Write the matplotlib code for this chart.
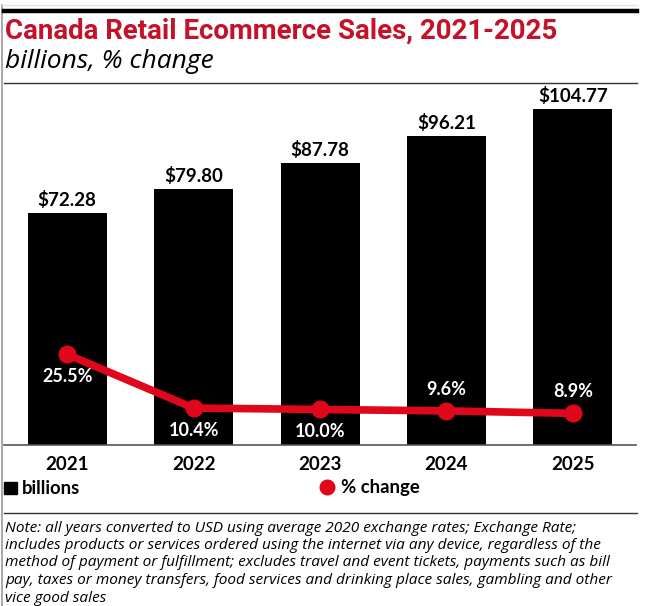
import matplotlib
matplotlib.use("Agg")
import matplotlib.pyplot as plt
from matplotlib.lines import Line2D
from matplotlib.patches import Rectangle

years = ["2021", "2022", "2023", "2024", "2025"]
sales_billions = [72.28, 79.80, 87.78, 96.21, 104.77]
pct_change = [25.5, 10.4, 10.0, 9.6, 8.9]
sales_labels = ["$72.28", "$79.80", "$87.78", "$96.21", "$104.77"]
pct_labels = ["25.5%", "10.4%", "10.0%", "9.6%", "8.9%"]
pct_label_above = [False, False, False, True, True]

title = "Canada Retail Ecommerce Sales, 2021-2025"
subtitle = "billions, % change"
legend_labels = ["billions", "% change"]
note_lines = [
    "Note: all years converted to USD using average 2020 exchange rates; Exchange Rate;",
    "includes products or services ordered using the internet via any device, regardless of the",
    "method of payment or fulfillment; excludes travel and event tickets, payments such as bill",
    "pay, taxes or money transfers, food services and drinking place sales, gambling and other",
    "vice good sales",
]

W, H = 656, 606
RED_TITLE = "#c5122b"
RED_LINE = "#e0061c"

fig = plt.figure(figsize=(W / 100, H / 100), dpi=100)
fig.patch.set_facecolor("white")

def fx(x):
    return x / W

def fy(y):
    return 1 - y / H

# frame lines
fig.add_artist(Line2D([fx(2), fx(2)], [fy(5), fy(606)], color="#9a9a9a", lw=1.2))
fig.add_artist(Line2D([fx(2), fx(637)], [fy(5), fy(5)], color="#e4e4e4", lw=1.0))
fig.add_artist(Line2D([fx(4), fx(637)], [fy(11), fy(11)], color="black", lw=3.2))
fig.add_artist(Line2D([fx(4), fx(637)], [fy(83), fy(83)], color="#333333", lw=1.0))
fig.add_artist(Line2D([fx(4), fx(637)], [fy(513), fy(513)], color="#333333", lw=1.0))

fig.text(fx(5), fy(31), title, color=RED_TITLE, fontsize=19.9, fontweight="bold",
         family="Roboto", va="center", ha="left")
fig.text(fx(5), fy(62), subtitle, color="black", fontsize=19, style="italic",
         family="Open Sans", va="center", ha="left")

# axes
ax = fig.add_axes([fx(4), fy(445), (636 - 4) / W, (445 - 90) / H])
x = list(range(len(years)))
ax.bar(x, sales_billions, width=0.625, color="black", zorder=2)
ax.set_xlim(-0.5, 4.5)
ax.set_ylim(0, 355 / 3.207)
for s in ["top", "right", "left"]:
    ax.spines[s].set_visible(False)
ax.spines["bottom"].set_color("#555555")
ax.spines["bottom"].set_linewidth(1.2)
ax.set_yticks([])
ax.set_xticks(x)
ax.set_xticklabels(years, fontsize=13.5, fontweight="bold", family="Lato")
ax.tick_params(axis="x", length=0, pad=8)
for xi, v, lab in zip(x, sales_billions, sales_labels):
    ax.annotate(lab, (xi, v), xytext=(0, 3), textcoords="offset points",
                ha="center", va="bottom", fontsize=13.5, fontweight="bold", family="Lato")

ax2 = ax.twinx()
ax2.set_ylim(0, 355 / 3.554)
ax2.axis("off")
ax2.plot(x, pct_change, color=RED_LINE, lw=5.5, marker="o", markersize=12,
         solid_capstyle="round", zorder=3)
for xi, v, lab, above in zip(x, pct_change, pct_labels, pct_label_above):
    ax2.annotate(lab, (xi, v), xytext=(0, 15.5 if above else -16), textcoords="offset points",
                 ha="center", va="center", fontsize=13, fontweight="bold",
                 family="Lato", color="white")

# legend
fig.add_artist(Rectangle((fx(4), fy(494)), 13 / W, 12 / H, color="black", transform=fig.transFigure))
fig.text(fx(22), fy(488), legend_labels[0], fontsize=13.3, fontweight="bold", family="Lato",
         va="center", ha="left")
fig.add_artist(Line2D([fx(327)], [fy(487)], marker="o", markersize=10.5, color=RED_LINE, lw=0))
fig.text(fx(341), fy(488), legend_labels[1], fontsize=13.3, fontweight="bold", family="Lato",
         va="center", ha="left")

for i, line in enumerate(note_lines):
    fig.text(fx(5), fy(528 + i * 17.5), line, fontsize=11.1, style="italic", family="Open Sans",
             va="center", ha="left")

fig.savefig("out.png", dpi=100, facecolor="white")
